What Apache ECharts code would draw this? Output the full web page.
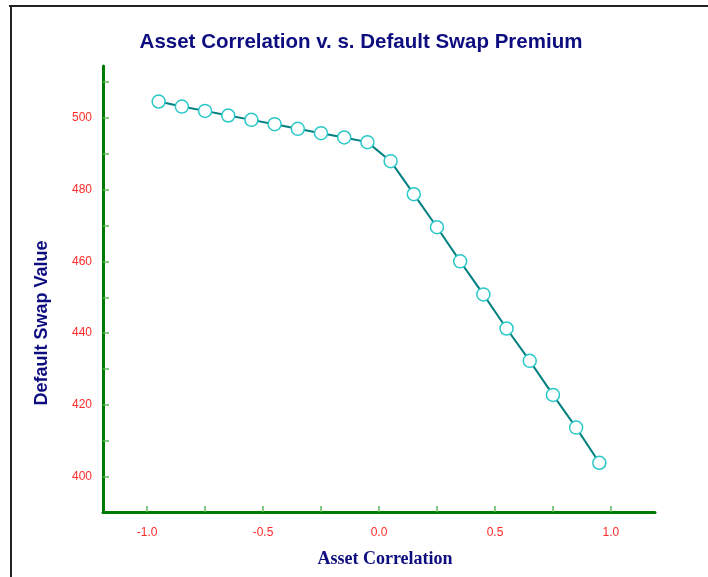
<!DOCTYPE html>
<html>
<head>
<meta charset="utf-8">
<script src="https://cdn.jsdelivr.net/npm/echarts@6/dist/echarts.min.js"></script>
<style>
  html, body { margin: 0; padding: 0; background: #fff; }
  #chart { width: 708px; height: 577px; }
</style>
</head>
<body>
<div id="chart"></div>
<script>
// asset correlation (x) and default swap value (y)
const correlation = [-0.95, -0.85, -0.75, -0.65, -0.55, -0.45, -0.35, -0.25, -0.15, -0.05,
  0.05, 0.15, 0.25, 0.35, 0.45, 0.55, 0.65, 0.75, 0.85, 0.95]
const swapValue = [504.5, 503.1, 501.9, 500.6, 499.4, 498.2, 496.9, 495.7, 494.5, 493.2,
  487.9, 478.7, 469.5, 460.0, 450.8, 441.3, 432.3, 422.8, 413.7, 403.9]
const xLabels = [-1.0, -0.5, 0.0, 0.5, 1.0]
const xTicks = [-1.0, -0.75, -0.5, -0.25, 0.0, 0.25, 0.5, 0.75, 1.0]
const yLabels = [400, 420, 440, 460, 480, 500]
const yTicks = [400, 410, 420, 430, 440, 450, 460, 470, 480, 490, 500, 510]

const navy = '#0d0d80'
const red = '#ff2a2a'
const green = '#007a00'

var chartDom = document.getElementById('chart')
var myChart = echarts.init(chartDom)

var option = {
  backgroundColor: '#fff',
  animation: false,
  title: {
    text: 'Asset Correlation v. s. Default Swap Premium',
    left: 361,
    textAlign: 'center',
    top: 32,
    padding: 0,
    textStyle: {
      fontFamily: 'Liberation Sans',
      fontWeight: 'bold',
      fontSize: 20.5,
      color: navy
    }
  },
  graphic: [
    { type: 'line', shape: { x1: 9, y1: 6, x2: 708, y2: 6 }, style: { stroke: '#222', lineWidth: 2 } },
    { type: 'line', shape: { x1: 11, y1: 5, x2: 11, y2: 577 }, style: { stroke: '#222', lineWidth: 2 } }
  ],
  grid: {
    left: 103,
    right: 53,
    top: 66,
    bottom: 65
  },
  xAxis: {
    type: 'value',
    min: -1.19,
    max: 1.19,
    name: 'Asset Correlation',
    nameLocation: 'middle',
    nameGap: 38,
    nameTextStyle: {
      fontFamily: 'Liberation Serif',
      fontWeight: 'bold',
      fontSize: 18,
      color: navy,
      padding: [0, 0, 0, 12]
    },
    splitLine: { show: false },
    axisLine: { show: true, onZero: false, lineStyle: { color: green, width: 3 } },
    axisTick: {
      show: true,
      inside: true,
      length: 6,
      customValues: xTicks,
      lineStyle: { color: '#5cb85c', width: 1.5 }
    },
    axisLabel: {
      customValues: xLabels,
      margin: 15,
      color: red,
      fontFamily: 'Liberation Sans',
      fontSize: 12,
      formatter: v => v.toFixed(1)
    }
  },
  yAxis: {
    type: 'value',
    min: 390.2,
    max: 514.4,
    name: 'Default Swap Value',
    nameLocation: 'middle',
    nameGap: 52,
    nameTextStyle: {
      fontFamily: 'Liberation Sans',
      fontWeight: 'bold',
      fontSize: 18,
      color: navy,
      padding: [0, 68, 0, 0]
    },
    splitLine: { show: false },
    axisLine: { show: true, onZero: false, lineStyle: { color: green, width: 3 } },
    axisTick: {
      show: true,
      inside: true,
      length: 6,
      customValues: yTicks,
      lineStyle: { color: '#5cb85c', width: 1.5 }
    },
    axisLabel: {
      customValues: yLabels,
      margin: 11,
      color: red,
      fontFamily: 'Liberation Sans',
      fontSize: 12
    }
  },
  series: [{
    type: 'line',
    data: correlation.map((x, i) => [x, swapValue[i]]),
    symbol: 'circle',
    symbolSize: 13,
    showAllSymbol: true,
    lineStyle: { color: '#008080', width: 2 },
    itemStyle: { color: '#fff', borderColor: '#2ac8c8', borderWidth: 1.5 }
  }]
}

myChart.setOption(option)
window.onresize = function () {
  myChart.resize()
}
</script>
</body>
</html>
